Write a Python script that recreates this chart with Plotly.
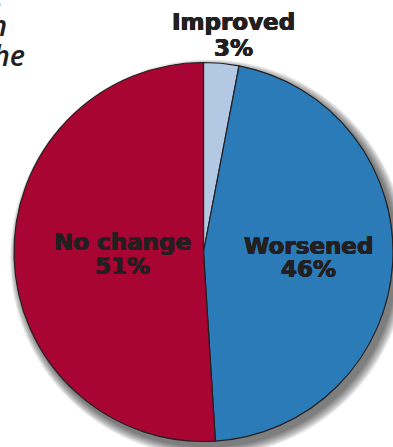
import plotly.graph_objects as go

# Survey outcome shares (percent)
categories = ["Improved", "Worsened", "No change"]
shares = [3, 46, 51]
slice_colors = ["#b3c9e3", "#2b7bb9", "#a80533"]

W, H = 393, 447
CX, CY, R = 203.5, 252.0, 189.5  # pie centre / radius in pixels


def px(x):
    return x / W


def py(y):
    return 1 - y / H


fig = go.Figure()

fig.add_trace(go.Pie(
    labels=categories,
    values=shares,
    sort=False,
    direction="clockwise",
    rotation=0,
    marker=dict(colors=slice_colors, line=dict(color="#231f20", width=1.2)),
    textinfo="none",
    hoverinfo="label+percent",
    showlegend=False,
    domain=dict(x=[px(CX - R), px(CX + R)], y=[py(CY + R), py(CY - R)]),
))

# soft drop shadow behind the pie, built from stacked translucent discs
shapes = []
for i in range(10):
    grow = 10 - i
    shapes.append(dict(
        type="circle", xref="paper", yref="paper", layer="below",
        x0=px(CX + 4 - R - grow * 0.8), x1=px(CX + 4 + R + grow),
        y0=py(CY + 5 + R + grow), y1=py(CY + 5 - R - grow * 0.8),
        fillcolor="rgba(0,0,0,0.065)", line=dict(width=0),
    ))

# heavy display face: bold sans thickened with a thin outline of its own colour
ink = "#231f20"
thick = ", ".join(f"{dx}px {dy}px 0 {ink}" for dx, dy in
                  [(0.5, 0), (-0.5, 0), (0, 0.4), (0, -0.4)])
label_font = dict(family="DejaVu Sans", size=23, color=ink, weight="bold", shadow=thick)

# label positions (pixels): name line and percentage line
label_pos = {
    "Improved": (233, 22, 48),
    "Worsened": (308, 246, 269),
    "No change": (122, 242, 266),
}

annotations = []
for name, val in zip(categories, shares):
    x, y_name, y_pct = label_pos[name]
    annotations.append(dict(text=name, x=px(x), y=py(y_name), xref="paper", yref="paper",
                            showarrow=False, xanchor="center", yanchor="middle", font=label_font))
    annotations.append(dict(text=f"{val}%", x=px(x), y=py(y_pct), xref="paper", yref="paper",
                            showarrow=False, xanchor="center", yanchor="middle", font=label_font))

# caption lines running in from the left edge
caption_font = dict(family="Open Sans", size=29, color=ink, style="italic", weight=600)
caption = [("are", 5, -5), ("in", 9, 24), ("the", 27, 54)]
for txt, xr, yc in caption:
    annotations.append(dict(text=txt, x=px(xr), y=py(yc), xref="paper", yref="paper",
                            showarrow=False, xanchor="right", yanchor="middle", font=caption_font))

fig.update_layout(
    width=W, height=H,
    margin=dict(l=0, r=0, t=0, b=0),
    paper_bgcolor="white", plot_bgcolor="white",
    shapes=shapes,
    annotations=annotations,
)

fig.write_html("out.html")
